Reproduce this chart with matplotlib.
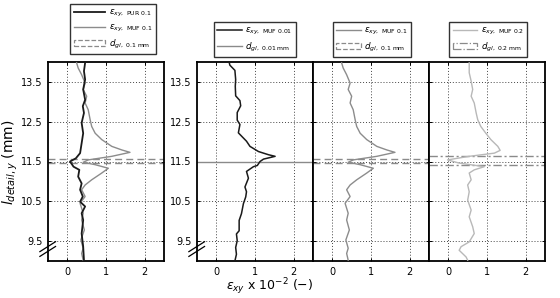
import matplotlib
matplotlib.use("Agg")
import matplotlib.pyplot as plt
from matplotlib.patches import Patch
from matplotlib.lines import Line2D

# ---------------- data ----------------
pur01_y = [13.98, 13.77, 13.56, 13.31, 13.05, 12.89, 12.72, 12.47, 12.21, 11.96, 11.71, 11.58, 11.50,
           11.37, 11.29, 11.12, 10.95, 10.79, 10.62, 10.49, 10.37, 10.20, 10.03, 9.69, 9.36, 9.02]
pur01_x = [0.46, 0.43, 0.46, 0.41, 0.46, 0.40, 0.43, 0.37, 0.41, 0.37, 0.33, 0.22, 0.07,
           0.16, 0.31, 0.28, 0.37, 0.33, 0.40, 0.33, 0.46, 0.37, 0.41, 0.37, 0.41, 0.43]

muf01_y = [13.98, 13.85, 13.68, 13.47, 13.31, 13.14, 12.97, 12.80, 12.55, 12.38, 12.21, 12.05, 11.88,
           11.79, 11.73, 11.63, 11.54, 11.48, 11.42, 11.33, 11.21, 11.04, 10.91, 10.79, 10.62, 10.45,
           10.20, 10.03, 9.78, 9.53, 9.32, 9.19, 9.02]
muf01_x = [0.24, 0.28, 0.37, 0.46, 0.41, 0.50, 0.46, 0.54, 0.59, 0.63, 0.72, 0.89, 1.15,
           1.41, 1.62, 1.15, 0.54, 0.41, 0.72, 1.06, 0.89, 0.63, 0.46, 0.37, 0.46, 0.33,
           0.41, 0.37, 0.44, 0.35, 0.41, 0.37, 0.41]

muf001_y = [14.0, 13.92, 13.79, 13.56, 13.39, 13.15, 13.03, 12.90, 12.73, 12.54, 12.43, 12.22, 12.01,
            11.88, 11.75, 11.67, 11.63, 11.56, 11.50, 11.40, 11.37, 11.25, 11.08, 10.86, 10.74,
            10.61, 10.44, 10.19, 10.02, 9.76, 9.68, 9.51, 9.34, 9.17, 9.0]
muf001_x = [0.33, 0.35, 0.48, 0.50, 0.49, 0.50, 0.61, 0.63, 0.54, 0.54, 0.61, 0.57, 0.78,
            0.87, 1.09, 1.35, 1.52, 1.22, 1.13, 1.06, 0.96, 0.78, 0.83, 0.74, 0.78,
            0.76, 0.70, 0.65, 0.59, 0.59, 0.52, 0.54, 0.50, 0.52, 0.48]

muf02_y = [13.98, 13.73, 13.52, 13.31, 13.14, 12.97, 12.72, 12.55, 12.38, 12.21, 12.05, 11.88, 11.78,
           11.71, 11.63, 11.54, 11.46, 11.37, 11.29, 11.21, 11.04, 10.91, 10.74, 10.53, 10.28,
           10.11, 9.86, 9.69, 9.48, 9.36, 9.27, 9.10, 9.02]
muf02_x = [0.54, 0.54, 0.59, 0.63, 0.59, 0.67, 0.72, 0.76, 0.84, 0.97, 1.10, 1.28, 1.34,
           1.19, 0.54, -0.02, 0.28, 0.93, 0.67, 0.54, 0.59, 0.50, 0.54, 0.50, 0.59,
           0.54, 0.63, 0.67, 0.54, 0.33, 0.28, 0.46, 0.50]

dgl_01 = [11.57, 11.45]
dgl_001 = [11.5]
dgl_02 = [11.63, 11.41]

xticks = [0, 1, 2]
yticks = [9.5, 10.5, 11.5, 12.5, 13.5]
ytick_labels = ["9.5", "10.5", "11.5", "12.5", "13.5"]

# ---------------- styling ----------------
plt.rcParams['font.family'] = ['DejaVu Sans']
plt.rcParams['mathtext.fontset'] = 'dejavusans'

c_black = '#1a1a1a'
c_muf01 = '#8c8c8c'
c_muf02 = '#b8b8b8'
c_dgl = '#8a8a8a'

fig = plt.figure(figsize=(5.6, 2.98), dpi=100)
W, H = 560.0, 298.0
bottom = 1 - 261 / H
height = 199 / H
lefts = [48, 197, 313, 429]
width = 116

axes = []
for i, l in enumerate(lefts):
    ax = fig.add_axes([l / W, bottom, width / W, height])
    ax.set_xlim(-0.5, 2.5)
    ax.set_ylim(9, 14)
    ax.set_xticks(xticks)
    ax.set_yticks(yticks)
    ax.grid(True, linestyle=(0, (1, 2)), color='#444444', linewidth=0.7)
    ax.tick_params(direction='in', length=2.5, width=0.7, top=True, right=True,
                   labelsize=7, pad=4)
    if i < 2:
        ax.set_yticklabels(ytick_labels)
    else:
        ax.set_yticklabels([])
    for sp in ax.spines.values():
        sp.set_linewidth(1.3)
    axes.append(ax)

ax1, ax2, ax3, ax4 = axes

leg_kw = dict(fontsize=6.3, frameon=True, fancybox=False, edgecolor='black',
              handlelength=2.8, borderpad=0.4, labelspacing=0.4, handletextpad=0.4)

# Panel 1
ax1.plot(pur01_x, pur01_y, color=c_black, lw=1.3, zorder=4)
ax1.plot(muf01_x, muf01_y, color=c_muf01, lw=1.0, zorder=3)
for yv in dgl_01:
    ax1.axhline(yv, color=c_dgl, lw=1.0, ls=(0, (5, 3)), zorder=2)
h1 = [Line2D([], [], color=c_black, lw=1.3),
      Line2D([], [], color=c_muf01, lw=1.0),
      Patch(facecolor='none', edgecolor=c_dgl, linestyle='--', lw=0.9)]
l1 = [r'$\varepsilon_{xy,\ \mathrm{PUR\ 0.1}}$', r'$\varepsilon_{xy,\ \mathrm{MUF\ 0.1}}$',
      r'$d_{gl,\ \mathrm{0.1\ mm}}$']
kw1 = dict(leg_kw)
kw1['handlelength'] = 3.6
leg = ax1.legend(h1, l1, loc='upper center', bbox_to_anchor=(113 / W, 1 - 0 / H),
                 bbox_transform=fig.transFigure, **kw1)
leg.get_frame().set_linewidth(1.0)

# Panel 2
ax2.plot(muf001_x, muf001_y, color=c_black, lw=1.1, zorder=4)
for yv in dgl_001:
    ax2.axhline(yv, color=c_dgl, lw=1.0, zorder=2)
h2 = [Line2D([], [], color=c_black, lw=1.1), Line2D([], [], color=c_dgl, lw=1.0)]
l2 = [r'$\varepsilon_{xy,\ \mathrm{MUF\ 0.01}}$', r'$d_{gl,\ \mathrm{0.01\ mm}}$']
leg = ax2.legend(h2, l2, loc='upper center', bbox_to_anchor=(255 / W, 1 - 18 / H),
                 bbox_transform=fig.transFigure, **leg_kw)
leg.get_frame().set_linewidth(1.0)

# Panel 3
ax3.plot(muf01_x, muf01_y, color=c_muf01, lw=1.0, zorder=3)
for yv in dgl_01:
    ax3.axhline(yv, color=c_dgl, lw=1.0, ls=(0, (5, 3)), zorder=2)
h3 = [Line2D([], [], color=c_muf01, lw=1.0),
      Patch(facecolor='none', edgecolor=c_dgl, linestyle='--', lw=0.9)]
l3 = [r'$\varepsilon_{xy,\ \mathrm{MUF\ 0.1}}$', r'$d_{gl,\ \mathrm{0.1\ mm}}$']
leg = ax3.legend(h3, l3, loc='upper center', bbox_to_anchor=(372 / W, 1 - 18 / H),
                 bbox_transform=fig.transFigure, **leg_kw)
leg.get_frame().set_linewidth(1.0)

# Panel 4
ax4.plot(muf02_x, muf02_y, color=c_muf02, lw=1.0, zorder=3)
for yv in dgl_02:
    ax4.axhline(yv, color=c_dgl, lw=1.0, ls=(0, (6, 2, 1.5, 2)), zorder=2)
h4 = [Line2D([], [], color=c_muf02, lw=1.0),
      Patch(facecolor='none', edgecolor=c_dgl, linestyle='-.', lw=0.9)]
l4 = [r'$\varepsilon_{xy,\ \mathrm{MUF\ 0.2}}$', r'$d_{gl,\ \mathrm{0.2\ mm}}$']
leg = ax4.legend(h4, l4, loc='upper center', bbox_to_anchor=(488 / W, 1 - 18 / H),
                 bbox_transform=fig.transFigure, **leg_kw)
leg.get_frame().set_linewidth(1.0)

# axis break marks on panels 1 and 2
for ax in (ax1, ax2):
    for dy in (-0.012, 0.012):
        ax.plot([-0.07, 0.065], [0.06 + dy - 0.025, 0.06 + dy + 0.025],
                transform=ax.transAxes, color='black', lw=0.9, clip_on=False, zorder=10)

# labels
fig.text(10 / W, 1 - 162 / H, r'$l_{detail,y}$ (mm)', rotation=90, ha='center', va='center',
         fontsize=10)
fig.text(270 / W, 1 - 287 / H, r'$\varepsilon_{xy}$ x 10$^{-2}$ (−)', ha='center', va='center',
         fontsize=9)

fig.savefig('out.png', dpi=100)
